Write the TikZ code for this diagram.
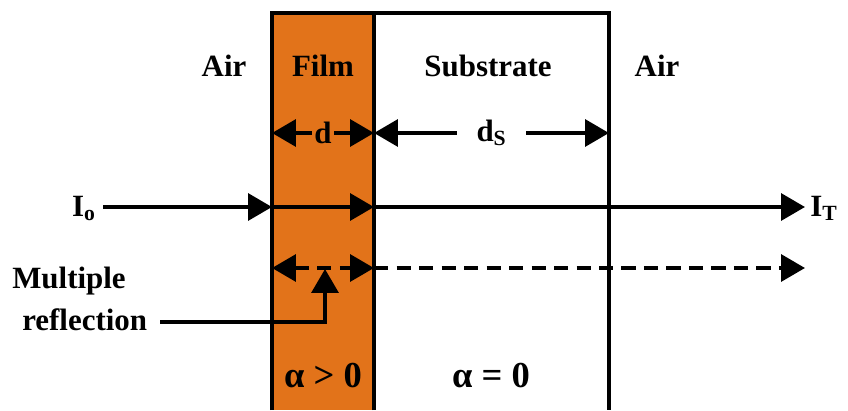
\documentclass[tikz,border=0pt]{standalone}
\usepackage{fontspec}
\setmainfont{Liberation Serif}
\usetikzlibrary{arrows.meta}
\definecolor{filmorange}{RGB}{226,115,26}
\tikzset{
  lbl/.style={font=\bfseries\fontsize{22}{26}\selectfont, inner sep=0pt},
  big/.style={font=\bfseries\fontsize{26}{30}\selectfont},
  wall/.style={line width=2.8pt},
  beam/.style={line width=2.8pt, -{Triangle[length=17pt, width=19pt]}},
  both/.style={line width=2.8pt, {Triangle[length=17pt, width=19pt]}-{Triangle[length=17pt, width=19pt]}},
  broken/.style={dash pattern=on 10pt off 6pt},
}
\begin{document}
\begin{tikzpicture}[x=0.025cm, y=0.025cm]
  \useasboundingbox (0,0) rectangle (848,410);
  % film and substrate
  \fill[filmorange] (272,0) rectangle (374,397);
  \draw[wall] (272,0) |- (609,397) -- (609,0);
  \draw[wall] (374,0) -- (374,397);
  % region names
  \node[lbl, anchor=base] (airL) at (224,334) {Air};
  \node[lbl, anchor=base] (film) at (323,334) {Film};
  \node[lbl, anchor=base] (sub) at (488,334) {Substrate};
  \node[lbl, anchor=base] (airR) at (657,334) {Air};
  % boundary points
  \coordinate (da) at (272,277);
  \coordinate (db) at (374,277);
  \coordinate (dc) at (609,277);
  \coordinate (ba) at (272,203);
  \coordinate (bb) at (374,203);
  \coordinate (bc) at (805,203);
  \coordinate (ra) at (272,142);
  \coordinate (rb) at (374,142);
  \coordinate (rc) at (805,142);
  \coordinate (rm) at (325,141);
  % thicknesses
  \draw[both] (da) -- (db) node[lbl, midway, fill=filmorange, inner xsep=2pt] (d) {d};
  \draw[both] (db) -- (dc) node[lbl, midway, fill=white, inner xsep=14pt] (ds) {d\textsubscript{S}};
  % beam
  \node[lbl, anchor=base east] (io) at (96,194) {I\textsubscript{o}};
  \node[lbl, anchor=base west] (it) at (810,194) {I\textsubscript{T}};
  \draw[beam, shorten <=5pt] (io.east |- ba) -- (ba);
  \draw[beam] (ba) -- (bb);
  \draw[beam] (bb) -- (bc);
  % reflections
  \draw[both, broken] (ra) -- (rb);
  \draw[beam, broken] (rb) -- (rc);
  \node[lbl, anchor=base west] (mult) at (12,122) {Multiple};
  \node[lbl, anchor=base west] (refl) at (22,80) {reflection};
  \draw[beam, shorten <=9pt] (refl.east |- 0,88) -| (rm);
  % absorption
  \node[lbl, big, anchor=base] (afilm) at (323,23) {α > 0};
  \node[lbl, big, anchor=base] (asub) at (491,23) {α = 0};
\end{tikzpicture}
\end{document}
